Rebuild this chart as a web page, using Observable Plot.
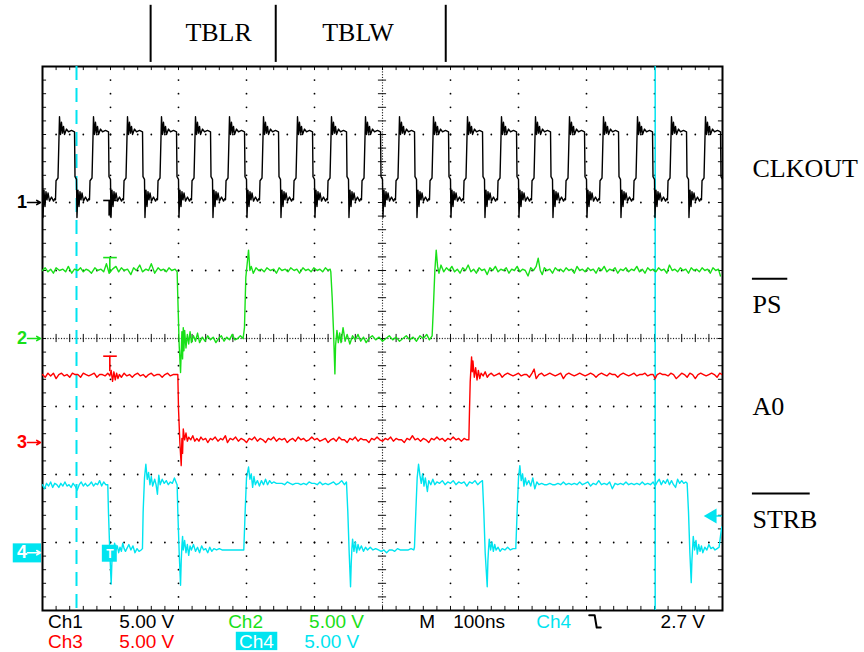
<!DOCTYPE html>
<html><head><meta charset="utf-8">
<script src="https://cdn.jsdelivr.net/npm/d3@7"></script>
<script src="https://cdn.jsdelivr.net/npm/@observablehq/plot@0.6"></script>
<style>
html,body{margin:0;padding:0;background:#fff;}
g[aria-label="status"] text{letter-spacing:1.5px;}
</style></head><body><div id="chart"></div>
<script>
// ---------- channel settings ----------
const channelNames = ["CLKOUT", "PS", "A0", "STRB"];
const channelNumbers = ["1", "2", "3", "4"];
const channelColors = ["#000000", "#18e018", "#ff0000", "#00e4f0"];
const groundDiv = [2.0, 0.0, -1.53, -3.15];   // ground marker positions (divisions)
const voltsPerDiv = 5;                        // 5.00 V / div
const nsPerDiv = 100;                         // M 100ns
const triggerLevel = 2.7;                     // Ch4 falling, 2.7 V
const triggerTime = 100;                      // ns
const cursorTimes = [50, 901];                // ns
const phaseBounds = [159, 343, 593];          // ns (TBLR / TBLW boundaries)
const phaseLabels = ["TBLR", "TBLW"];

// ---------- Ch1 CLKOUT : pulse peaks (ns) and one-period shape [dt ns, V] ----------
const clockPeaks = [-25, 25, 75, 125, 175, 225, 275, 325, 375, 425, 475, 525, 575, 625, 675, 725, 775, 825, 875, 925, 975];
const clockPulse = [[-5.9,0.2],[-5.1,1.6],[-2.2,1.8],[0,6.3],[1.5,5.0],[2.9,5.9],[4.4,5.1],[5.9,5.6],[7.4,5.0],[10.3,5.4],[13.2,5.2],[17.6,5.3],[22.1,5.2],[22.8,1.9],[25,1.7],[25.7,-1.1],[27.2,0.9],[28.7,-0.3],[30.1,0.8],[31.6,0.2],[33.1,0.7],[35.3,0.1],[38.2,0.4],[41.2,0.1],[43.4,0.3]];

// ---------- Ch2 PS [ns, V] ----------
const psTrace = [[0,5.0],[4,5.2],[8,4.9],[12,5.1],[16,4.8],[20,5.2],[25,5.0],[30,5.1],[34,4.9],[38,5.3],[43,4.8],[47,5.1],[52,5.0],[56,5.2],[60,4.9],[64,5.1],[68,5.0],[72,4.8],[77,5.2],[81,5.0],[86,5.1],[90,4.9],[94,5.5],[98,4.8],[103,5.1],[108,5.3],[112,4.9],[116,5.2],[120,5.0],[125,5.1],[130,4.7],[134,5.2],[138,5.0],[143,5.4],[147,4.9],[152,5.1],[156,5.0],[160,5.5],[165,4.8],[170,5.2],[174,5.0],[178,5.1],[182,4.9],[186,5.2],[190,5.0],[195,5.1],[198,4.9],
[199,3.0],[201,-0.5],[203,-2.5],[204,-1.0],[205,0.5],[206,-1.5],[207,0.8],[208,-0.9],[209,0.6],[211,-0.7],[213,0.3],[215,-0.4],[217,0.5],[219,-0.3],[222,0.2],[225,-0.2],[228,0.4],[231,-0.3],[235,0.1],[239,-0.2],[243,0.2],[247,-0.1],[251,0.1],[255,-0.3],[259,0.0],[263,0.2],[267,-0.2],[271,0.1],[275,-0.1],[279,0.3],[283,-0.1],[287,0.0],[291,0.2],[295,0.0],[297,0.8],
[299,4.5],[301,5.5],[303,6.5],[305,5.0],[307,5.3],[310,4.8],[314,5.2],[318,5.0],[322,5.1],[326,4.9],[330,5.2],[335,5.0],[340,5.1],[344,4.8],[348,5.2],[352,5.0],[357,5.1],[361,4.9],[365,5.2],[370,5.0],[374,5.1],[378,4.8],[383,5.2],[387,5.0],[391,5.1],[395,4.9],[399,5.2],[404,5.0],[408,5.1],[412,4.9],[416,5.2],[420,5.0],[423,5.1],[424,4.9],
[426,3.0],[428,0.5],[430,-2.6],[431,-0.5],[433,0.6],[435,-0.3],[437,0.4],[439,-0.3],[442,0.8],[445,-0.2],[448,0.3],[452,-0.4],[456,0.2],[460,-0.1],[464,0.3],[468,-0.2],[472,0.1],[476,-0.3],[480,0.0],[485,0.2],[490,-0.1],[495,0.1],[500,-0.2],[505,0.0],[510,0.2],[515,-0.1],[520,0.1],[525,-0.2],[530,0.0],[535,0.2],[540,-0.1],[545,0.1],[550,-0.2],[555,0.2],[560,0.0],[565,0.3],[569,-0.1],[573,0.2],
[575,2.5],[577,5.0],[579,6.5],[581,5.3],[583,4.8],[586,5.4],[590,4.9],[594,5.2],[598,5.0],[602,5.3],[606,4.9],[610,5.1],[614,4.8],[618,5.2],[622,5.0],[626,5.4],[630,4.9],[634,5.1],[638,4.8],[642,5.2],[646,5.0],[650,5.1],[654,4.7],[658,5.2],[662,5.0],[666,5.3],[670,4.9],[674,5.1],[678,5.0],[682,5.2],[686,4.8],[690,5.1],[694,5.0],[698,5.3],[702,4.9],[706,5.1],[710,5.0],[714,4.6],[718,5.2],[722,5.0],[726,5.3],[729,5.9],[732,5.0],[735,4.7],[738,5.2],[742,5.0],[746,5.1],[750,4.8],[754,5.2],[758,5.0],[762,5.1],[766,4.9],[770,5.2],[774,5.0],[778,5.1],[782,4.8],[786,5.3],[790,5.0],[794,5.1],[798,4.9],[802,5.2],[806,5.0],[810,5.1],[814,4.8],[818,5.2],[822,5.0],[826,5.3],[830,4.9],[834,5.1],[838,5.0],[842,5.2],[846,4.8],[850,5.1],[854,5.0],[858,5.2],[862,4.9],[866,5.1],[870,5.0],[874,5.3],[878,4.9],[882,5.1],[886,4.8],[890,5.2],[894,5.0],[898,5.1],[902,4.9],[906,5.2],[910,5.0],[914,5.1],[918,4.8],[922,5.4],[926,5.0],[930,5.1],[934,4.9],[938,5.2],[942,5.0],[946,5.1],[950,4.8],[954,5.2],[958,5.0],[962,5.1],[966,4.9],[970,5.2],[974,5.0],[978,5.1],[982,4.8],[986,5.2],[990,5.0],[994,5.1],[997,4.6]];

// ---------- Ch3 A0 [ns, V] ----------
const a0Trace = [[0,5.0],[4,4.8],[8,5.1],[12,4.9],[16,5.1],[20,4.7],[24,5.0],[28,5.1],[32,4.9],[36,5.0],[40,4.8],[44,5.1],[48,5.0],[52,5.0],[56,4.8],[60,5.1],[64,5.0],[68,4.9],[72,5.0],[76,5.1],[80,4.8],[84,5.0],[88,5.0],[92,4.9],[96,5.1],[99,4.9],[101,5.3],[103,4.5],[105,5.2],[107,4.6],[109,5.1],[111,4.7],[113,5.0],[116,4.8],[120,5.1],[124,4.9],[128,5.0],[132,4.8],[136,5.0],[140,5.1],[144,4.9],[148,5.0],[152,4.8],[156,5.0],[160,5.1],[164,4.9],[168,5.0],[172,5.0],[176,4.8],[180,5.0],[184,5.1],[188,4.9],[192,5.0],[196,5.0],[199,5.0],
[200,2.5],[202,0.0],[204,-1.7],[205,0.3],[206,-0.8],[207,1.0],[209,0.2],[211,0.7],[213,0.1],[215,0.4],[218,0.2],[221,0.5],[224,0.1],[227,0.3],[230,0.1],[233,0.4],[236,0.2],[240,0.3],[243,0.0],[247,0.3],[250,0.2],[254,0.4],[258,0.1],[262,0.3],[265,0.2],[269,0.5],[272,0.0],[276,0.3],[280,0.2],[284,0.4],[288,0.1],[292,0.3],[296,0.2],[300,0.0],[304,0.3],[308,0.2],[312,0.4],[316,0.1],[320,0.3],[324,0.2],[328,0.0],[332,0.3],[336,0.2],[340,0.4],[344,0.1],[348,0.3],[352,0.2],[356,0.3],[360,0.0],[364,0.2],[368,0.3],[372,0.1],[376,0.4],[380,0.2],[384,0.3],[388,0.1],[392,0.2],[396,0.4],[400,0.2],[404,0.3],[408,0.1],[412,0.2],[416,0.3],[420,0.0],[424,0.2],[428,0.3],[432,0.1],[436,0.4],[440,0.2],[444,0.2],[448,0.0],[452,0.3],[456,0.2],[460,0.4],[464,0.1],[468,0.3],[472,0.2],[476,0.2],[480,0.0],[484,0.3],[488,0.2],[492,0.4],[496,0.2],[500,0.1],[504,0.3],[508,0.2],[512,0.4],[516,0.1],[520,0.3],[524,0.2],[528,0.2],[532,0.0],[536,0.3],[540,0.2],[544,0.5],[548,0.2],[552,0.3],[556,0.1],[560,0.3],[564,0.2],[568,0.0],[572,0.3],[576,0.2],[580,0.4],[584,0.2],[588,0.3],[592,0.1],[596,0.3],[600,0.2],[604,0.4],[608,0.2],[612,0.3],[616,0.1],[620,0.3],[624,0.2],[627,0.2],
[628,2.5],[629,4.5],[631,6.3],[632,5.2],[633,6.0],[635,4.8],[637,5.5],[639,4.6],[641,5.3],[643,4.7],[645,5.1],[648,4.9],[651,5.2],[654,4.8],[657,5.0],[660,5.1],[664,4.9],[668,5.0],[672,5.1],[676,4.8],[680,5.0],[684,5.1],[688,5.0],[692,4.9],[696,5.0],[700,5.1],[704,4.9],[708,5.0],[712,5.0],[716,4.8],[720,5.1],[723,5.4],[726,4.7],[730,5.0],[734,5.1],[738,4.9],[742,5.0],[746,5.1],[750,5.0],[754,4.9],[758,5.0],[762,5.1],[766,4.7],[770,5.0],[774,5.1],[778,5.0],[782,4.9],[786,5.0],[790,5.1],[794,5.0],[798,4.9],[802,5.0],[806,5.1],[810,5.0],[814,4.8],[818,5.0],[822,5.1],[826,5.0],[830,4.9],[834,5.1],[838,5.0],[842,5.0],[846,4.8],[850,5.0],[854,5.1],[858,5.0],[862,4.9],[866,5.0],[870,5.1],[874,4.9],[878,5.0],[882,5.0],[886,5.1],[890,4.9],[894,5.0],[898,5.0],[901,4.7],[904,5.0],[908,5.1],[912,5.0],[916,5.0],[920,4.9],[924,5.1],[928,5.0],[932,4.7],[936,4.9],[940,5.1],[944,5.0],[948,4.8],[952,5.1],[956,5.0],[960,4.7],[964,5.0],[968,5.1],[972,5.0],[976,4.9],[980,5.0],[984,5.1],[988,5.0],[992,4.8],[996,5.1],[999,5.0]];

// ---------- Ch4 STRB [ns, V] ----------
const strbTrace = [[0,5.0],[3,4.7],[6,5.1],[9,4.9],[12,5.2],[15,4.8],[18,5.1],[21,5.0],[24,4.8],[27,5.1],[30,4.9],[33,5.2],[36,4.9],[39,5.0],[42,4.8],[45,5.1],[48,4.9],[51,4.6],[54,5.0],[57,5.2],[60,4.9],[63,5.1],[66,4.9],[69,5.0],[72,5.2],[75,4.9],[78,5.1],[81,5.0],[84,5.3],[87,4.9],[90,5.2],[93,5.0],[96,5.0],
[97,3.0],[99,0.0],[101,-2.3],[102,-0.8],[103,0.2],[104,-0.5],[106,0.7],[108,0.2],[110,0.5],[112,0.0],[114,0.4],[116,0.1],[118,0.7],[120,0.3],[122,0.1],[124,0.3],[127,0.6],[130,0.2],[133,0.5],[136,0.0],[139,0.3],[142,0.1],[145,0.2],[147,0.3],
[148,3.0],[150,5.5],[152,6.5],[154,5.4],[156,5.9],[158,5.0],[160,5.6],[162,4.9],[165,5.4],[167,5.0],[169,4.3],[171,5.7],[173,5.0],[176,5.4],[179,5.1],[182,5.3],[185,5.0],[188,5.2],[191,5.1],[194,5.5],[197,5.1],[198,5.0],
[199,3.0],[201,0.0],[203,-2.4],[204,-0.6],[205,0.5],[206,1.2],[207,0.2],[209,0.9],[211,0.0],[213,0.6],[215,-0.2],[217,0.5],[219,0.2],[222,0.6],[225,0.1],[228,0.4],[231,0.0],[234,0.5],[237,0.2],[240,0.3],[243,0.0],[246,0.4],[249,0.1],[252,0.3],[256,0.2],[260,0.3],[264,0.2],[268,0.2],[272,0.2],[280,0.2],[288,0.2],[296,0.2],
[298,3.0],[300,5.5],[303,6.3],[305,5.4],[307,5.8],[309,4.8],[311,5.6],[313,5.0],[316,5.3],[319,4.9],[322,5.3],[325,5.0],[328,5.4],[331,5.0],[334,5.3],[337,5.1],[340,5.2],[344,5.1],[348,5.1],[352,5.1],[356,5.0],[360,5.2],[364,5.1],[368,5.0],[372,5.1],[376,5.1],[380,5.0],[384,5.1],[388,5.0],[392,5.2],[396,5.1],[400,5.1],[404,5.0],[408,5.2],[412,5.0],[416,5.1],[420,5.0],[424,5.1],[428,5.2],[432,5.0],[436,5.1],[440,5.3],[444,5.0],[447,5.2],
[449,3.0],[451,0.0],[453,-2.5],[454,-0.8],[455,0.3],[456,1.0],[458,0.1],[460,0.8],[462,0.0],[464,0.6],[466,0.2],[469,0.5],[472,0.1],[475,0.4],[478,0.2],[482,0.4],[486,0.2],[490,0.3],[494,0.2],[498,0.1],[502,0.2],[506,0.0],[510,0.2],[514,0.2],[518,0.1],[522,0.3],[526,0.2],[530,0.2],[534,0.2],[538,0.2],[542,0.3],[546,0.2],[547,0.4],
[549,3.0],[551,5.5],[553,6.5],[555,5.7],[557,5.1],[559,5.8],[561,4.9],[563,5.5],[566,4.5],[568,5.3],[571,5.0],[574,5.4],[577,5.0],[580,5.2],[584,5.1],[588,5.3],[592,5.0],[596,5.2],[600,5.1],[604,5.3],[608,5.0],[612,5.2],[616,5.1],[620,5.2],[624,4.9],[628,5.2],[632,5.1],[636,5.3],[640,5.0],[644,5.2],[647,5.3],
[649,3.0],[651,0.0],[654,-2.5],[655,-0.6],[656,0.3],[657,1.0],[659,0.2],[661,0.8],[663,0.1],[665,0.6],[667,0.2],[670,0.4],[673,0.1],[676,0.3],[680,0.2],[684,0.4],[688,0.2],[692,0.3],[696,0.3],
[698,3.0],[700,5.5],[702,6.4],[704,5.3],[706,5.8],[708,4.9],[710,5.5],[712,5.0],[715,5.3],[718,4.9],[721,5.5],[724,4.7],[727,5.2],[730,5.0],[734,5.1],[738,5.0],[742,5.0],[746,5.1],[750,5.0],[754,5.0],[758,5.1],[762,5.0],[766,5.2],[770,5.0],[774,5.1],[778,5.0],[782,5.1],[786,5.0],[790,5.2],[794,5.0],[798,5.1],[802,5.2],[806,4.9],[810,5.1],[814,5.0],[818,5.3],[822,5.0],[826,5.1],[830,5.0],[834,5.2],[838,4.7],[842,5.1],[846,5.0],[850,5.1],[854,5.0],[858,5.2],[862,5.0],[866,5.1],[870,5.0],[874,5.1],[878,5.0],[882,5.2],[886,5.0],[890,5.1],[894,5.0],[898,5.2],[901,4.9],[904,5.2],[907,5.4],[910,5.0],[913,5.3],[916,5.1],[919,5.4],[922,5.0],[925,5.3],[928,5.0],[931,4.8],[934,5.4],[937,5.1],[940,5.3],[943,5.1],[946,5.2],[948,5.1],
[950,3.0],[952,0.0],[954,-2.2],[955,-0.6],[956,0.3],[957,1.2],[959,0.2],[961,0.9],[963,-0.1],[965,0.6],[967,0.1],[969,0.5],[971,0.0],[974,0.4],[977,0.2],[980,0.6],[983,0.3],[986,0.4],[989,0.2],[992,0.3],[995,0.4],[997,1.2],[999,1.9]];

// ---------- status line texts ----------
const statusRow1 = ["Ch1", "5.00 V", "Ch2", "5.00 V", "M", "100ns", "Ch4", "2.7 V"];
const statusRow2 = ["Ch3", "5.00 V", "Ch4", "5.00 V"];

// ================= build =================
const toRows = (pts, ch) => pts.map(([t, v]) => ({t, y: groundDiv[ch] + v / voltsPerDiv}));
const clockRows = [];
for (const p of clockPeaks) for (const [dt, v] of clockPulse) clockRows.push({t: p + dt, y: groundDiv[0] + v / voltsPerDiv});
const traces = [clockRows, toRows(psTrace, 1), toRows(a0Trace, 2), toRows(strbTrace, 3)];

// graticule
const T = nsPerDiv;
const gridDots = [];
for (let i = 1; i < 10; i++) if (i !== 5) for (let j = -19; j <= 19; j++) gridDots.push({t: i * T, y: j * 0.2});
for (let j = -3; j <= 3; j++) if (j !== 0) for (let i = 1; i < 50; i++) gridDots.push({t: i * T / 5, y: j});
const centerDots = [];
for (let i = 0; i <= 250; i++) centerDots.push({t: i * T / 25, y: 0});
for (let j = -100; j <= 100; j++) centerDots.push({t: 5 * T, y: j * 0.04});
const minorT = d3.range(1, 50).map(i => i * T / 5);
const minorY = d3.range(-19, 20).map(j => j * 0.2);
const tk = 0.06, tkT = tk * T;

// layout helpers (ns / divisions)
const labelX = 1044;
const rightLabels = [
  {text: "CLKOUT", y: 2.37}, {text: "PS", y: 0.38}, {text: "A0", y: -1.13}, {text: "STRB", y: -2.79}
];
const overbars = [{x1: 1044, x2: 1096, y: 0.88}, {x1: 1044, x2: 1129, y: -2.28}];
const row1Y = -4.25, row2Y = -4.545;
const row1 = [
  {text: statusRow1[0], t: 8, c: "#000"}, {text: statusRow1[1], t: 113, c: "#000"},
  {text: statusRow1[2], t: 273, c: channelColors[1]}, {text: statusRow1[3], t: 392, c: channelColors[1]},
  {text: statusRow1[4], t: 554, c: "#000"}, {text: statusRow1[5], t: 604, c: "#000"},
  {text: statusRow1[6], t: 726, c: channelColors[3]}, {text: statusRow1[7], t: 909, c: "#000"}
].map(d => ({...d, y: row1Y}));
const row2 = [
  {text: statusRow2[0], t: 8, c: channelColors[2]}, {text: statusRow2[1], t: 113, c: channelColors[2]},
  {text: statusRow2[2], t: 289, c: "#fff"}, {text: statusRow2[3], t: 385, c: channelColors[3]}
].map(d => ({...d, y: row2Y}));
const fallSymbol = [{t: 804, y: -4.07}, {t: 812, y: -4.07}, {t: 815, y: -4.25}, {t: 821, y: -4.25}];

const tMarkers = [0, 1, 2].map(ch => {
  const top = [2.03, 1.19, -0.26][ch];
  return {ch, top, bottom: top - 0.23};
});

const serif = "Liberation Serif, Times New Roman, serif";
const sans = "Liberation Sans, Arial, sans-serif";

const plot = Plot.plot({
  width: 864, height: 652,
  marginLeft: 42, marginRight: 142, marginTop: 66, marginBottom: 42,
  x: {domain: [0, 10 * T], axis: null},
  y: {domain: [-4, 4], axis: null},
  color: {type: "identity"},
  style: {background: "#fff"},
  marks: [
    // graticule
    Plot.dot(gridDots, {x: "t", y: "y", r: 0.9, fill: "#000", stroke: null}),
    Plot.dot(centerDots, {x: "t", y: "y", r: 0.65, fill: "#222", stroke: null}),
    Plot.ruleX(minorT, {x: d => d, y1: -tk, y2: tk, stroke: "#111", strokeWidth: 1}),
    Plot.ruleY(minorY, {y: d => d, x1: 5 * T - tkT, x2: 5 * T + tkT, stroke: "#111", strokeWidth: 1}),
    Plot.ruleX(minorT, {x: d => d, y1: 4, y2: 4 - tk, stroke: "#111", strokeWidth: 1}),
    Plot.ruleX(minorT, {x: d => d, y1: -4, y2: -4 + tk, stroke: "#111", strokeWidth: 1}),
    Plot.ruleY(minorY, {y: d => d, x1: 0, x2: tkT, stroke: "#111", strokeWidth: 1}),
    Plot.ruleY(minorY, {y: d => d, x1: 10 * T, x2: 10 * T - tkT, stroke: "#111", strokeWidth: 1}),
    Plot.frame({stroke: "#000", strokeWidth: 2}),
    // cursors
    Plot.ruleX([cursorTimes[0]], {x: d => d, stroke: channelColors[3], strokeWidth: 2, strokeDasharray: "14,8"}),
    Plot.ruleX([cursorTimes[1]], {x: d => d, stroke: channelColors[3], strokeWidth: 1.5}),
    // traces
    ...traces.map((rows, i) => Plot.line(rows, {x: "t", y: "y", stroke: channelColors[i], strokeWidth: 1.4, clip: true})),
    // trigger position markers
    Plot.ruleY(tMarkers, {y: "top", x1: triggerTime - 10, x2: triggerTime + 10, stroke: d => channelColors[d.ch], strokeWidth: 1.6}),
    Plot.ruleX(tMarkers, {x: triggerTime - 1, y1: "top", y2: "bottom", stroke: d => channelColors[d.ch], strokeWidth: d => d.ch === 0 ? 3 : 1.6}),
    Plot.rect([{ch: 3}], {x1: triggerTime - 12, x2: triggerTime + 10, y1: groundDiv[3] + 0.11, y2: groundDiv[3] - 0.14, fill: channelColors[3]}),
    Plot.text([{ch: 3}], {x: triggerTime - 1, y: groundDiv[3] - 0.015, text: () => "T", fill: "#fff", fontSize: 12, fontWeight: "bold", fontFamily: sans}),
    // trigger level arrow (Ch4)
    Plot.dot([{t: 985, y: groundDiv[3] + triggerLevel / voltsPerDiv}], {x: "t", y: "y", symbol: "triangle", rotate: -90, r: 5.5, fill: channelColors[3], stroke: null}),
    Plot.ruleY([{y: groundDiv[3] + triggerLevel / voltsPerDiv}], {y: "y", x1: 990, x2: 1000, stroke: channelColors[3], strokeWidth: 1.5}),
    // ground markers
    Plot.rect([{ch: 3}], {x1: -43, x2: -1.5, y1: groundDiv[3] + 0.13, y2: groundDiv[3] - 0.15, fill: channelColors[3]}),
    Plot.text([0, 1, 2, 3], {x: -2, y: i => groundDiv[i], text: i => channelNumbers[i], dx: -14, fill: i => i === 3 ? "#fff" : channelColors[i], textAnchor: "end", fontSize: 18, fontWeight: "bold", fontFamily: sans}),
    Plot.arrow([0, 1, 2, 3], {x1: -22, x2: -3, y1: i => groundDiv[i], y2: i => groundDiv[i], stroke: i => i === 3 ? "#fff" : channelColors[i], strokeWidth: 1.6, headLength: 6}),
    // phase annotations
    Plot.ruleX(phaseBounds, {x: d => d, y1: 4.06, y2: 4.9, stroke: "#000", strokeWidth: 2}),
    Plot.text(phaseLabels, {x: (d, i) => (phaseBounds[i] + phaseBounds[i + 1]) / 2 + [8, -4][i], y: 4.38, text: d => d, lineAnchor: "bottom", fontSize: 26, fontFamily: serif, fill: "#000"}),
    // signal names
    Plot.text(rightLabels, {x: labelX, y: "y", text: "text", textAnchor: "start", lineAnchor: "bottom", fontSize: 26, fontFamily: serif, fill: "#000"}),
    Plot.ruleY(overbars, {y: "y", x1: "x1", x2: "x2", stroke: "#000", strokeWidth: 2}),
    // status line
    Plot.rect([{}], {x1: 285, x2: 346, y1: -4.32, y2: -4.59, fill: channelColors[3]}),
    Plot.text([...row1, ...row2], {x: "t", y: "y", text: "text", fill: "c", textAnchor: "start", lineAnchor: "bottom", fontSize: 19, fontFamily: sans, ariaLabel: "status"}),
    Plot.line(fallSymbol, {x: "t", y: "y", stroke: "#000", strokeWidth: 2})
  ]
});
document.getElementById("chart").appendChild(plot);
</script></body></html>
